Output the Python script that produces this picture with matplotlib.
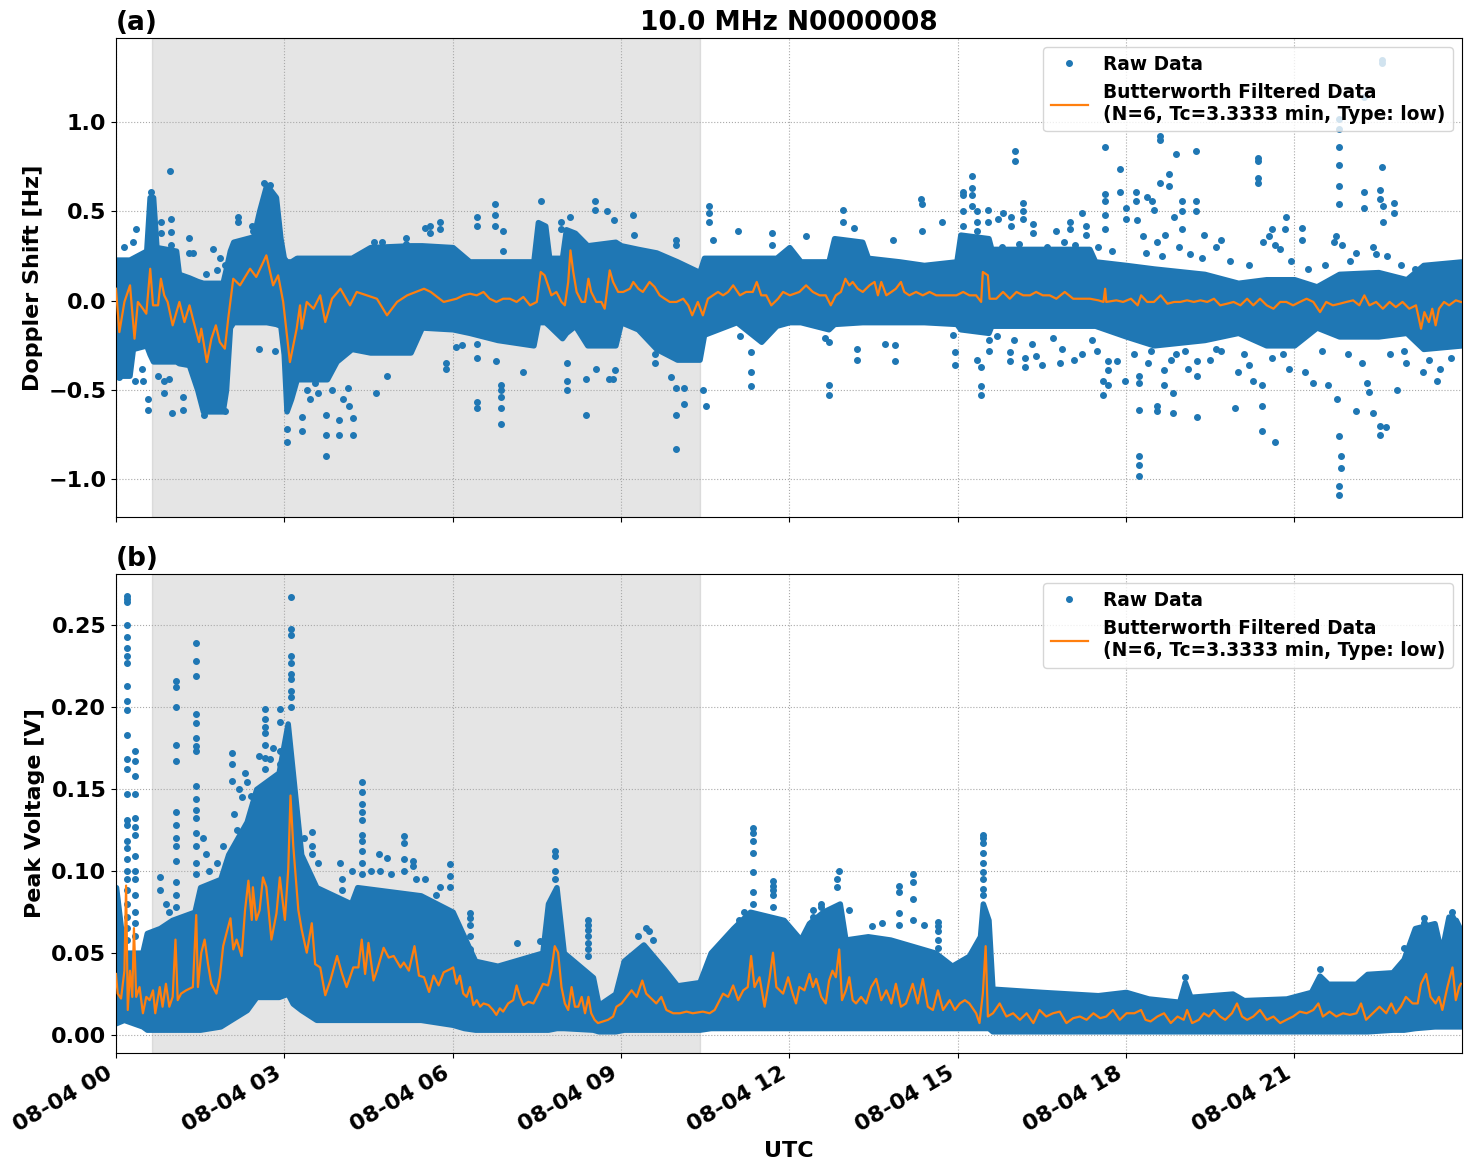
import pandas as pd
import matplotlib.pyplot as plt
import matplotlib.dates as mdates

BASE_DAY = pd.Timestamp('2024-08-04')
SUN_START = 0.64    # hours UTC, start of shaded part
SUN_END = 10.41

# ---- panel (a): Doppler shift ----
# butterworth filtered curve (hours, Hz)
doppler_filt_t = [0.00, 0.06, 0.15, 0.25, 0.33, 0.39, 0.48, 0.54, 0.61, 0.66, 0.75, 0.80, 0.86, 0.92, 1.01,
                  1.13, 1.22, 1.31, 1.37, 1.48, 1.52, 1.62, 1.70, 1.78, 1.85, 1.94, 2.00, 2.09, 2.21, 2.39,
                  2.50, 2.68, 2.80, 2.89, 2.98, 3.10, 3.22, 3.28, 3.31, 3.40, 3.52, 3.64, 3.73, 3.85, 4.00,
                  4.17, 4.29, 4.47, 4.65, 4.83, 5.01, 5.19, 5.49, 5.61, 5.84,
                  6.07, 6.19, 6.31, 6.43, 6.55, 6.66, 6.78, 6.90, 7.02, 7.14, 7.26, 7.38, 7.50, 7.57, 7.64,
                  7.70, 7.76, 7.85, 7.94, 8.00, 8.06, 8.10, 8.15, 8.21, 8.30, 8.36, 8.42, 8.47, 8.56, 8.65,
                  8.71, 8.80, 8.86, 8.95, 9.04, 9.16, 9.22, 9.31, 9.39, 9.51, 9.60, 9.69, 9.78, 9.87, 9.99,
                  10.11, 10.20, 10.27, 10.37, 10.46, 10.55, 10.64, 10.73, 10.82, 10.91, 11.00, 11.12, 11.23,
                  11.35, 11.42, 11.50, 11.59, 11.68, 11.80, 11.89, 12.01,
                  12.18, 12.30, 12.42, 12.54, 12.65, 12.74, 12.83, 12.92, 13.00, 13.07, 13.13, 13.22, 13.31,
                  13.43, 13.52, 13.58, 13.64, 13.73, 13.82, 13.90, 13.99, 14.05, 14.14, 14.26, 14.38, 14.50,
                  14.62, 14.74, 14.86, 14.98, 15.10, 15.21, 15.33, 15.42, 15.45, 15.54, 15.57, 15.69, 15.81,
                  15.93, 16.05, 16.17, 16.29, 16.40, 16.52, 16.64, 16.76, 16.91, 17.06, 17.18, 17.36, 17.51,
                  17.60, 17.63, 17.65, 17.83, 17.95,
                  18.09, 18.21, 18.27, 18.38, 18.50, 18.62, 18.74, 18.86, 18.97, 19.09, 19.21, 19.33, 19.45,
                  19.57, 19.68, 19.80, 19.92, 20.04, 20.16, 20.27, 20.39, 20.51, 20.63, 20.75, 20.86, 20.98,
                  21.10, 21.22, 21.34, 21.46, 21.57, 21.69, 21.81, 21.93, 22.05, 22.16, 22.25, 22.34, 22.46,
                  22.58, 22.70, 22.81, 22.93, 23.05, 23.17, 23.26, 23.32, 23.40, 23.46, 23.52, 23.58, 23.67,
                  23.76, 23.88, 23.97]
doppler_filt_v = [0.067, -0.176, -0.007, 0.086, -0.213, -0.007, -0.045, -0.073, 0.179, -0.026, -0.026, 0.123,
                  0.030, -0.007, -0.138, -0.007, -0.120, -0.026, -0.101, -0.232, -0.157, -0.344, -0.213,
                  -0.138, -0.232, -0.269, -0.101, 0.123, 0.086, 0.179, 0.133, 0.254, 0.086, 0.142, -0.007,
                  -0.344, -0.157, -0.026, -0.157, -0.007, -0.045, 0.030, -0.120, 0.011, 0.067, -0.026, 0.049,
                  0.030, 0.011, -0.082, -0.007, 0.030, 0.067, 0.049, -0.007,
                  0.011, 0.030, 0.039, 0.030, 0.049, 0.011, -0.007, 0.011, 0.011, -0.007, 0.021, -0.026,
                  -0.007, 0.161, 0.142, 0.086, 0.030, 0.049, -0.007, -0.026, 0.105, 0.282, 0.161, 0.049,
                  -0.007, -0.007, 0.123, 0.049, -0.007, -0.007, -0.045, 0.170, 0.105, 0.049, 0.049, 0.067,
                  0.105, 0.067, 0.049, 0.105, 0.077, 0.030, 0.011, -0.007, -0.007, 0.011, -0.026, -0.082,
                  -0.007, -0.082, 0.011, 0.030, 0.049, 0.030, 0.049, 0.086, 0.030, 0.049, 0.049, 0.105,
                  0.030, 0.030, -0.026, 0.011, 0.049, 0.030,
                  0.049, 0.086, 0.049, 0.030, 0.030, -0.026, 0.030, 0.049, 0.123, 0.086, 0.105, 0.067, 0.049,
                  0.086, 0.105, 0.030, 0.105, 0.030, 0.049, 0.067, 0.105, 0.049, 0.030, 0.049, 0.030, 0.049,
                  0.030, 0.030, 0.030, 0.030, 0.049, 0.030, 0.030, -0.007, 0.161, 0.142, 0.011, 0.011, 0.049,
                  0.011, 0.049, 0.030, 0.030, 0.049, 0.030, 0.030, 0.011, 0.049, 0.011, 0.011, 0.011, 0.002,
                  -0.007, 0.067, -0.007, 0.002, -0.007,
                  0.011, -0.026, 0.030, -0.007, -0.007, 0.030, -0.017, -0.007, -0.007, 0.002, -0.007, 0.002,
                  -0.007, 0.011, -0.026, -0.017, -0.007, -0.026, 0.011, -0.026, 0.011, -0.026, -0.045,
                  -0.007, -0.007, -0.026, -0.007, 0.011, -0.007, -0.064, -0.007, -0.026, -0.017, -0.007,
                  0.002, -0.026, 0.030, -0.026, -0.007, -0.045, -0.007, -0.036, -0.007, -0.045, -0.026,
                  -0.157, -0.064, -0.120, -0.045, -0.138, -0.045, -0.007, -0.026, 0.002, -0.007]

# dense cloud of raw points: upper / lower edge (hours, Hz)
doppler_band_t = [0.00, 0.24, 0.30, 0.54, 0.60, 0.66, 0.72, 1.07, 1.12, 1.30, 1.45, 1.55, 1.90, 1.96, 2.03,
                  2.09, 2.45, 2.55, 2.68, 2.85, 2.93, 2.99, 3.04, 3.12, 3.22, 3.76, 3.93, 4.20, 4.53, 5.25,
                  5.45, 6.00,
                  6.30, 6.80, 7.44, 7.52, 7.65, 7.72, 7.95, 8.02, 8.18, 8.40, 8.90, 9.00, 9.30, 9.63, 10.00,
                  10.40, 10.48, 11.06, 11.50, 11.77, 12.00, 12.20, 12.70, 12.80, 13.30, 13.40, 13.96, 14.40,
                  14.98, 15.05, 15.55, 15.60, 17.35, 17.45, 18.00, 18.50, 19.40, 20.00, 20.50, 21.00, 21.40,
                  21.80, 22.50, 23.00, 23.30, 23.99]
doppler_band_hi = [0.23, 0.23, 0.24, 0.28, 0.58, 0.58, 0.30, 0.28, 0.15, 0.13, 0.11, 0.10, 0.10, 0.18, 0.28,
                   0.33, 0.36, 0.50, 0.65, 0.58, 0.35, 0.24, 0.22, 0.22, 0.24, 0.24, 0.24, 0.24, 0.30, 0.31,
                   0.31, 0.30,
                   0.22, 0.22, 0.22, 0.44, 0.42, 0.24, 0.24, 0.40, 0.38, 0.31, 0.33, 0.31, 0.29, 0.27, 0.22,
                   0.16, 0.24, 0.24, 0.24, 0.24, 0.30, 0.22, 0.22, 0.35, 0.33, 0.24, 0.22, 0.20,
                   0.22, 0.37, 0.35, 0.29, 0.29, 0.22, 0.20, 0.18, 0.15, 0.10, 0.12, 0.12, 0.08,
                   0.15, 0.16, 0.12, 0.20, 0.22]
doppler_band_lo = [-0.42, -0.42, -0.27, -0.25, -0.30, -0.34, -0.34, -0.34, -0.35, -0.36, -0.50, -0.62, -0.62,
                   -0.50, -0.15, -0.12, -0.12, -0.12, -0.12, -0.13, -0.14, -0.30, -0.62, -0.55, -0.44, -0.44,
                   -0.34, -0.27, -0.29, -0.29, -0.15, -0.16,
                   -0.18, -0.22, -0.25, -0.12, -0.12, -0.14, -0.21, -0.18, -0.14, -0.25, -0.25, -0.12, -0.16,
                   -0.27, -0.33, -0.33, -0.19, -0.12, -0.23, -0.14, -0.12, -0.12, -0.16, -0.13, -0.12, -0.12,
                   -0.12, -0.12, -0.13, -0.16, -0.18, -0.14, -0.14, -0.14, -0.20, -0.25, -0.22, -0.18, -0.25,
                   -0.25, -0.15, -0.20, -0.20, -0.18, -0.27, -0.25]

# isolated raw points outside the dense cloud (hours, Hz)
doppler_outliers = [
    (0.97, 0.727), (0.80, 0.44), (0.80, 0.38), (0.98, 0.46), (0.98, 0.385), (0.98, 0.31), (1.30, 0.35),
    (1.31, 0.27), (1.37, 0.27), (1.73, 0.29), (1.85, 0.24), (1.94, 0.20), (2.18, 0.47), (2.18, 0.44),
    (2.42, 0.42), (2.45, 0.39), (2.64, 0.66), (2.74, 0.65), (2.68, 0.57), (0.62, 0.61),
    (0.05, -0.43), (0.33, -0.45), (0.46, -0.38), (0.48, -0.45), (0.57, -0.55), (0.57, -0.61),
    (0.75, -0.42), (0.86, -0.45), (0.95, -0.44), (0.86, -0.52), (1.00, -0.63), (1.19, -0.54),
    (1.19, -0.61), (1.56, -0.64), (1.72, -0.57), (1.94, -0.62), (2.55, -0.27), (2.84, -0.28),
    (3.05, -0.72), (3.05, -0.79), (3.31, -0.65), (3.32, -0.73), (3.46, -0.55), (3.55, -0.46),
    (3.75, -0.64), (3.74, -0.75), (3.75, -0.87), (3.97, -0.67), (3.97, -0.75), (4.13, -0.49),
    (4.16, -0.59), (4.22, -0.66), (4.22, -0.75), (4.63, -0.52), (4.83, -0.42), (5.89, -0.35),
    (5.89, -0.38), (4.60, 0.33), (4.74, 0.33), (5.16, 0.35), (5.16, 0.32), (5.50, 0.41), (5.60, 0.42),
    (5.60, 0.38), (5.77, 0.44), (5.77, 0.40), (3.40, -0.50), (3.60, -0.52), (3.85, -0.50), (4.05, -0.55),
    (0.15, 0.30), (0.30, 0.33), (0.35, 0.40), (1.60, 0.15), (1.80, 0.17),
    (6.44, 0.47), (6.44, 0.42), (6.75, 0.54), (6.75, 0.48), (6.75, 0.42), (6.89, 0.39), (6.90, 0.28),
    (7.58, 0.56), (7.93, 0.44), (7.93, 0.40), (8.10, 0.47), (8.53, 0.56), (8.53, 0.51), (8.75, 0.50),
    (8.87, 0.45), (9.22, 0.48), (9.24, 0.37), (9.99, 0.34), (9.99, 0.31), (10.57, 0.53), (10.57, 0.49),
    (10.57, 0.44), (10.64, 0.34), (11.09, 0.39), (11.70, 0.38), (11.70, 0.31),
    (6.06, -0.26), (6.17, -0.25), (6.44, -0.24), (6.44, -0.32), (6.44, -0.57), (6.44, -0.60),
    (6.78, -0.34), (6.87, -0.47), (6.87, -0.50), (6.87, -0.54), (6.87, -0.60), (6.87, -0.69),
    (7.26, -0.40), (8.03, -0.35), (8.03, -0.45), (8.03, -0.50), (8.37, -0.44), (8.37, -0.64),
    (8.55, -0.38), (8.78, -0.44), (8.86, -0.44), (8.90, -0.39), (9.60, -0.30), (9.60, -0.35),
    (9.90, -0.43), (9.98, -0.49), (9.98, -0.64), (9.98, -0.83), (10.12, -0.49), (10.12, -0.58),
    (10.46, -0.50), (10.51, -0.59), (11.31, -0.29), (11.31, -0.40), (11.31, -0.48), (11.13, -0.20),
    (12.29, 0.36), (12.95, 0.51), (12.95, 0.44), (13.15, 0.41), (13.85, 0.34), (14.35, 0.57),
    (14.36, 0.54), (14.36, 0.39), (14.72, 0.44), (15.10, 0.61), (15.10, 0.59), (15.26, 0.70),
    (15.26, 0.63), (15.26, 0.59), (15.26, 0.53), (15.10, 0.50), (15.10, 0.42), (15.35, 0.50),
    (15.35, 0.44), (15.35, 0.39), (15.54, 0.51), (15.54, 0.44), (15.72, 0.46), (15.81, 0.49),
    (16.02, 0.84), (16.02, 0.78), (16.17, 0.55), (16.17, 0.50), (16.17, 0.46), (16.35, 0.43),
    (16.35, 0.38), (15.96, 0.47), (15.96, 0.42), (16.76, 0.39), (17.00, 0.44), (17.00, 0.40),
    (17.22, 0.49), (17.29, 0.42), (17.29, 0.37), (17.63, 0.86), (17.63, 0.60), (17.63, 0.56),
    (17.63, 0.48), (17.63, 0.40), (17.89, 0.74), (17.89, 0.61), (18.00, 0.52), (18.00, 0.46),
    (12.63, -0.21), (12.70, -0.23), (12.70, -0.47), (12.70, -0.53), (13.20, -0.27), (13.20, -0.33),
    (13.71, -0.24), (13.89, -0.25), (13.89, -0.34), (14.92, -0.19), (14.96, -0.29), (14.96, -0.36),
    (15.35, -0.33), (15.41, -0.37), (15.41, -0.48), (15.41, -0.53), (15.56, -0.22), (15.56, -0.28),
    (15.93, -0.29), (15.93, -0.34), (16.21, -0.32), (16.21, -0.37), (16.33, -0.24), (16.40, -0.31),
    (16.51, -0.36), (16.86, -0.27), (16.82, -0.35), (17.08, -0.33), (17.22, -0.30), (17.49, -0.28),
    (17.60, -0.45), (17.60, -0.53), (17.68, -0.34), (17.68, -0.39), (17.68, -0.47), (17.85, -0.34),
    (17.98, -0.45), (15.80, 0.30), (16.10, 0.32), (16.60, 0.30), (16.90, 0.33), (17.10, 0.31),
    (17.50, 0.30), (17.75, 0.28), (15.70, -0.20), (16.00, -0.22), (16.70, -0.21), (17.40, -0.22),
    (18.61, 0.92), (18.61, 0.90), (18.90, 0.82), (19.25, 0.84), (18.77, 0.71), (18.61, 0.66),
    (18.77, 0.64), (18.18, 0.61), (18.18, 0.56), (18.38, 0.58), (18.47, 0.56), (19.00, 0.56),
    (19.25, 0.56), (18.50, 0.51), (18.86, 0.47), (19.00, 0.50), (19.25, 0.50), (20.35, 0.80),
    (20.35, 0.78), (20.35, 0.69), (20.35, 0.66), (20.86, 0.47), (20.83, 0.40), (21.13, 0.41),
    (21.13, 0.34), (21.79, 1.02), (21.79, 0.96), (21.79, 0.86), (21.79, 0.76), (21.79, 0.64),
    (21.79, 0.54), (22.56, 0.75), (22.53, 0.62), (22.53, 0.57), (22.58, 0.53), (22.58, 0.44),
    (22.24, 0.61), (22.24, 0.52), (22.77, 0.55), (22.77, 0.49), (22.24, 1.14), (22.56, 1.35),
    (22.56, 1.33), (20.45, 0.33), (20.55, 0.36), (20.65, 0.31), (20.75, 0.29), (20.60, 0.40),
    (21.70, 0.33), (21.75, 0.36), (21.85, 0.31), (22.10, 0.27), (22.40, 0.30), (22.45, 0.26),
    (19.60, 0.30), (19.70, 0.34), (19.40, 0.37), (19.00, 0.40), (18.70, 0.37), (18.55, 0.33),
    (18.30, 0.36), (18.20, 0.45), (18.35, 0.27), (18.65, 0.25), (18.95, 0.30), (19.15, 0.26),
    (19.35, 0.24), (19.85, 0.22), (20.20, 0.20), (20.95, 0.22), (21.25, 0.18), (21.55, 0.20),
    (22.00, 0.22), (22.65, 0.25), (22.90, 0.20), (23.15, 0.18),
    (18.24, -0.42), (18.24, -0.46), (18.24, -0.61), (18.24, -0.87), (18.24, -0.92), (18.24, -0.98),
    (18.56, -0.59), (18.56, -0.62), (18.84, -0.52), (18.84, -0.63), (19.27, -0.65), (19.94, -0.60),
    (20.43, -0.47), (20.43, -0.59), (20.43, -0.73), (20.65, -0.79), (21.77, -0.55), (21.80, -0.76),
    (21.84, -0.87), (21.84, -0.94), (21.79, -1.04), (21.79, -1.09), (22.10, -0.62), (22.40, -0.63),
    (22.52, -0.70), (22.52, -0.75), (22.64, -0.71), (22.84, -0.50), (19.27, -0.34), (19.27, -0.42),
    (18.68, -0.39), (18.68, -0.47), (20.27, -0.45), (21.34, -0.46), (21.60, -0.47), (22.30, -0.46),
    (22.33, -0.51), (23.55, -0.45), (18.40, -0.35), (18.90, -0.30), (19.10, -0.38), (19.50, -0.33),
    (19.70, -0.28), (20.00, -0.40), (20.20, -0.36), (20.90, -0.38), (21.20, -0.40), (22.70, -0.30),
    (23.00, -0.35), (23.30, -0.40), (23.60, -0.38), (18.15, -0.30), (18.45, -0.28), (18.80, -0.33),
    (19.05, -0.28), (19.60, -0.27), (20.10, -0.30), (20.60, -0.32), (20.80, -0.30), (21.50, -0.28),
    (21.95, -0.30), (22.20, -0.35), (22.95, -0.28), (23.40, -0.33), (23.80, -0.32),
]

# ---- panel (b): peak voltage ----
volt_filt_t = [0.00, 0.03, 0.09, 0.15, 0.18, 0.21, 0.25, 0.29, 0.32, 0.36, 0.42, 0.48, 0.54, 0.60, 0.66, 0.70,
               0.78, 0.83, 0.89, 0.95, 1.01, 1.06, 1.10, 1.16, 1.25, 1.37, 1.43, 1.46, 1.52, 1.58, 1.64, 1.70,
               1.79, 1.85, 1.91, 1.97, 2.04, 2.09, 2.15, 2.24, 2.30, 2.36, 2.42, 2.44, 2.50, 2.56, 2.62, 2.68,
               2.77, 2.86, 2.92, 3.01, 3.07, 3.11, 3.16, 3.25, 3.31, 3.40, 3.49, 3.55, 3.64, 3.73, 3.82, 3.94,
               4.03, 4.11, 4.23, 4.32, 4.38, 4.44, 4.50, 4.59, 4.65, 4.77, 4.86, 4.95, 5.07, 5.13, 5.22, 5.32,
               5.40, 5.49, 5.58, 5.66, 5.75, 5.84, 5.96,
               6.01, 6.07, 6.13, 6.19, 6.25, 6.31, 6.37, 6.43, 6.49, 6.55, 6.64, 6.72, 6.78, 6.84, 6.90, 6.99,
               7.08, 7.14, 7.20, 7.26, 7.35, 7.44, 7.53, 7.61, 7.70, 7.76, 7.82, 7.88, 7.94, 8.00, 8.06, 8.12,
               8.18, 8.24, 8.30, 8.36, 8.42, 8.47, 8.53, 8.59, 8.68, 8.77, 8.86, 8.92, 9.01, 9.10, 9.19, 9.28,
               9.38, 9.45, 9.54, 9.63, 9.72, 9.81, 9.93, 10.05, 10.17, 10.28, 10.46, 10.58, 10.67, 10.76, 10.82,
               10.91, 11.00, 11.09, 11.18, 11.26, 11.32, 11.38, 11.47, 11.56, 11.65, 11.71, 11.77, 11.89, 11.98,
               12.06, 12.12, 12.18, 12.27, 12.36, 12.42, 12.48, 12.57, 12.65, 12.71, 12.77, 12.83, 12.89, 12.94,
               13.01, 13.07, 13.13, 13.19, 13.28, 13.37, 13.46, 13.55, 13.64, 13.73, 13.82, 13.90, 13.99, 14.08,
               14.20, 14.29, 14.38, 14.47, 14.56, 14.65, 14.74, 14.86, 14.95, 15.04, 15.13, 15.21, 15.33, 15.39,
               15.45, 15.50, 15.54, 15.63, 15.75, 15.87, 15.99, 16.11, 16.23, 16.35, 16.46, 16.58, 16.70, 16.82,
               16.94, 17.06, 17.18, 17.30, 17.42, 17.54, 17.65, 17.77, 17.89, 18.01,
               18.15, 18.27, 18.35, 18.44, 18.56, 18.68, 18.80, 18.92, 19.03, 19.09, 19.18, 19.30, 19.39, 19.48,
               19.57, 19.68, 19.77, 19.89, 19.98, 20.07, 20.16, 20.27, 20.39, 20.51, 20.63, 20.75, 20.86, 20.98,
               21.10, 21.22, 21.34, 21.43, 21.51, 21.63, 21.75, 21.87, 21.99, 22.11, 22.19, 22.28, 22.40, 22.52,
               22.64, 22.73, 22.81, 22.90, 22.99, 23.11, 23.20, 23.26, 23.35, 23.43, 23.52, 23.58, 23.64, 23.73,
               23.82, 23.88, 23.94, 23.97]
volt_filt_v = [0.037, 0.025, 0.022, 0.039, 0.091, 0.015, 0.039, 0.023, 0.065, 0.023, 0.029, 0.013, 0.023,
               0.021, 0.027, 0.013, 0.029, 0.017, 0.031, 0.017, 0.023, 0.058, 0.021, 0.025, 0.027, 0.029,
               0.073, 0.029, 0.050, 0.058, 0.043, 0.031, 0.025, 0.035, 0.054, 0.062, 0.071, 0.052, 0.058,
               0.048, 0.076, 0.094, 0.070, 0.090, 0.070, 0.076, 0.096, 0.090, 0.058, 0.074, 0.096, 0.070,
               0.101, 0.146, 0.115, 0.076, 0.064, 0.050, 0.068, 0.043, 0.041, 0.024, 0.033, 0.048, 0.037,
               0.029, 0.041, 0.041, 0.058, 0.037, 0.056, 0.033, 0.039, 0.053, 0.047, 0.048, 0.041, 0.044,
               0.039, 0.054, 0.036, 0.035, 0.026, 0.036, 0.030, 0.038, 0.040,
               0.041, 0.031, 0.036, 0.025, 0.023, 0.029, 0.018, 0.021, 0.017, 0.019, 0.018, 0.015, 0.012,
               0.016, 0.014, 0.019, 0.021, 0.030, 0.023, 0.018, 0.020, 0.019, 0.025, 0.031, 0.030, 0.039,
               0.054, 0.050, 0.029, 0.019, 0.015, 0.029, 0.017, 0.017, 0.023, 0.013, 0.023, 0.013, 0.009,
               0.007, 0.008, 0.009, 0.011, 0.017, 0.019, 0.023, 0.027, 0.023, 0.033, 0.025, 0.022, 0.019,
               0.023, 0.015, 0.013, 0.013, 0.014, 0.013, 0.014, 0.013, 0.015, 0.021, 0.025, 0.023, 0.030,
               0.021, 0.027, 0.029, 0.048, 0.029, 0.035, 0.017, 0.035, 0.050, 0.029, 0.025, 0.035,
               0.025, 0.019, 0.029, 0.027, 0.037, 0.029, 0.034, 0.023, 0.019, 0.033, 0.039, 0.035, 0.052,
               0.021, 0.027, 0.035, 0.021, 0.019, 0.023, 0.019, 0.029, 0.034, 0.021, 0.027, 0.019, 0.031,
               0.017, 0.019, 0.031, 0.019, 0.034, 0.017, 0.015, 0.027, 0.015, 0.021, 0.015, 0.019, 0.021,
               0.019, 0.013, 0.007, 0.025, 0.054, 0.011, 0.013, 0.019, 0.011, 0.013, 0.009, 0.013, 0.007,
               0.015, 0.011, 0.013, 0.014, 0.007, 0.010, 0.011, 0.009, 0.013, 0.010, 0.011, 0.015, 0.009,
               0.013,
               0.013, 0.015, 0.009, 0.008, 0.011, 0.013, 0.007, 0.011, 0.009, 0.015, 0.007, 0.009, 0.013,
               0.011, 0.015, 0.011, 0.009, 0.013, 0.019, 0.011, 0.009, 0.011, 0.015, 0.009, 0.011, 0.007,
               0.009, 0.011, 0.014, 0.013, 0.015, 0.019, 0.011, 0.014, 0.011, 0.013, 0.012, 0.013, 0.019,
               0.009, 0.013, 0.017, 0.013, 0.019, 0.013, 0.017, 0.023, 0.019, 0.019, 0.031, 0.037, 0.023,
               0.019, 0.023, 0.015, 0.029, 0.041, 0.021, 0.029, 0.031]

volt_band_t = [0.00, 0.14, 0.47, 0.55, 0.78, 1.00, 1.40, 1.50, 1.86, 2.00, 2.33, 2.50, 2.90, 3.06, 3.15, 3.30,
               3.57, 4.19, 4.30, 5.43, 6.00, 6.20, 6.40, 6.80, 7.60, 7.70, 7.85, 7.98, 8.50, 8.60, 8.90, 9.05,
               9.40, 9.77, 10.00, 10.40, 10.60, 11.00, 11.30, 11.90,
               12.20, 12.35, 12.60, 12.90, 13.00, 13.40, 13.80, 14.20, 14.60, 14.90, 15.20, 15.40, 15.45,
               15.55, 15.62, 16.50, 17.50, 18.00,
               18.40, 18.95, 19.05, 19.15, 19.90, 20.10, 20.86, 21.30, 21.45, 21.60, 22.10, 22.30, 22.75,
               22.95, 23.15, 23.50, 23.62, 23.75, 23.88, 23.99]
volt_band_hi = [0.090, 0.050, 0.050, 0.062, 0.065, 0.070, 0.075, 0.090, 0.095, 0.110, 0.130, 0.150, 0.160,
                0.190, 0.160, 0.110, 0.090, 0.080, 0.090, 0.085, 0.075, 0.060, 0.045, 0.042, 0.050, 0.080,
                0.090, 0.050, 0.035, 0.018, 0.025, 0.045, 0.055, 0.040, 0.030, 0.032, 0.050, 0.065, 0.075,
                0.070,
                0.058, 0.068, 0.075, 0.080, 0.058, 0.060, 0.058, 0.054, 0.050, 0.042, 0.048, 0.060, 0.080,
                0.070, 0.028, 0.026, 0.024, 0.026,
                0.022, 0.020, 0.032, 0.023, 0.025, 0.021, 0.022, 0.026, 0.036, 0.031, 0.031, 0.037, 0.038,
                0.046, 0.065, 0.068, 0.050, 0.072, 0.070, 0.062]
volt_band_lo = [0.007, 0.009, 0.005, 0.003, 0.003, 0.003, 0.003, 0.003, 0.005, 0.008, 0.015, 0.023, 0.023,
                0.025, 0.019, 0.015, 0.009, 0.009, 0.009, 0.009, 0.006, 0.004, 0.003, 0.003, 0.003, 0.003,
                0.004, 0.004, 0.003, 0.002, 0.002, 0.003, 0.003, 0.003, 0.003, 0.003, 0.004, 0.004, 0.004,
                0.004,
                0.004, 0.004, 0.004, 0.004, 0.004, 0.004, 0.004, 0.004, 0.004, 0.004, 0.004, 0.004, 0.004,
                0.004, 0.002, 0.002, 0.002, 0.002,
                0.002, 0.002, 0.002, 0.002, 0.002, 0.002, 0.002, 0.002, 0.002, 0.002, 0.002, 0.002, 0.003,
                0.003, 0.004, 0.005, 0.005, 0.005, 0.005, 0.005]

volt_outliers = [
    (0.19, 0.268), (0.19, 0.266), (0.19, 0.264), (0.19, 0.250), (0.19, 0.243), (0.19, 0.236),
    (0.19, 0.231), (0.19, 0.227), (0.19, 0.213), (0.19, 0.204), (0.19, 0.198), (0.19, 0.183),
    (0.19, 0.168), (0.19, 0.162), (0.19, 0.147), (0.19, 0.131), (0.19, 0.128), (0.19, 0.118),
    (0.19, 0.114), (0.19, 0.107), (0.19, 0.100), (0.19, 0.095), (0.19, 0.088), (0.19, 0.080),
    (0.19, 0.072), (0.19, 0.065), (0.19, 0.058),
    (0.33, 0.173), (0.33, 0.167), (0.33, 0.158), (0.33, 0.147), (0.33, 0.132), (0.33, 0.127),
    (0.33, 0.122), (0.33, 0.109), (0.33, 0.100), (0.33, 0.095), (0.33, 0.085), (0.33, 0.075),
    (0.33, 0.068), (0.33, 0.060),
    (0.62, 0.062), (0.78, 0.096), (0.78, 0.088), (0.90, 0.080), (0.95, 0.075),
    (1.07, 0.216), (1.07, 0.212), (1.07, 0.200), (1.07, 0.177), (1.07, 0.167), (1.07, 0.136),
    (1.07, 0.128), (1.07, 0.120), (1.07, 0.115), (1.07, 0.106), (1.07, 0.093), (1.07, 0.085),
    (1.07, 0.078),
    (1.43, 0.239), (1.43, 0.228), (1.43, 0.219), (1.43, 0.196), (1.43, 0.190), (1.43, 0.181),
    (1.43, 0.176), (1.43, 0.173), (1.43, 0.152), (1.43, 0.144), (1.43, 0.137), (1.43, 0.132),
    (1.43, 0.123), (1.43, 0.115), (1.43, 0.105), (1.43, 0.098), (1.55, 0.120), (1.60, 0.110),
    (1.65, 0.100), (1.80, 0.105), (1.90, 0.115),
    (2.06, 0.172), (2.06, 0.165), (2.06, 0.155), (2.30, 0.160), (2.33, 0.154), (2.40, 0.146),
    (2.45, 0.141), (2.20, 0.150), (2.25, 0.145), (2.10, 0.135), (2.15, 0.125),
    (2.65, 0.199), (2.65, 0.193), (2.65, 0.188), (2.65, 0.184), (2.65, 0.177), (2.65, 0.169),
    (2.65, 0.162), (2.92, 0.199), (2.92, 0.191), (2.92, 0.173), (2.92, 0.165), (2.55, 0.170),
    (2.80, 0.175), (2.75, 0.168),
    (3.12, 0.267), (3.12, 0.248), (3.12, 0.244), (3.12, 0.231), (3.12, 0.227), (3.12, 0.220),
    (3.12, 0.217), (3.12, 0.210), (3.12, 0.206), (3.12, 0.200),
    (3.49, 0.124), (3.49, 0.115), (3.49, 0.110), (3.35, 0.120), (3.60, 0.105), (4.00, 0.105),
    (4.03, 0.095), (4.03, 0.088), (4.20, 0.100),
    (4.38, 0.154), (4.38, 0.148), (4.38, 0.141), (4.38, 0.136), (4.38, 0.131), (4.38, 0.122),
    (4.38, 0.118), (4.38, 0.112), (4.38, 0.105), (4.38, 0.098), (4.55, 0.100), (4.68, 0.110),
    (4.70, 0.100), (4.83, 0.108), (4.90, 0.098), (5.13, 0.121), (5.13, 0.117), (5.13, 0.107),
    (5.13, 0.100), (5.30, 0.106), (5.30, 0.103), (5.35, 0.095), (5.50, 0.095), (5.96, 0.104),
    (5.96, 0.097), (5.96, 0.090), (5.78, 0.090), (5.70, 0.085),
    (6.31, 0.074), (6.31, 0.071), (6.31, 0.067), (6.31, 0.060), (6.31, 0.052), (7.14, 0.056),
    (7.56, 0.057), (7.82, 0.112), (7.82, 0.109), (7.82, 0.100), (7.82, 0.095), (8.42, 0.070),
    (8.42, 0.067), (8.42, 0.064), (8.42, 0.060), (8.42, 0.056), (8.42, 0.052), (8.42, 0.048),
    (9.45, 0.065), (9.50, 0.063), (9.57, 0.058), (9.30, 0.060),
    (11.35, 0.126), (11.35, 0.123), (11.35, 0.118), (11.35, 0.111), (11.35, 0.099), (11.35, 0.087),
    (11.35, 0.080), (11.71, 0.094), (11.71, 0.091), (11.71, 0.088), (11.71, 0.085), (11.71, 0.078),
    (11.10, 0.070), (11.20, 0.075),
    (12.89, 0.100), (12.85, 0.095), (12.85, 0.090), (13.95, 0.091), (13.95, 0.087), (13.95, 0.074),
    (13.95, 0.067), (14.21, 0.098), (14.21, 0.093), (14.21, 0.083), (14.21, 0.070), (14.65, 0.069),
    (14.65, 0.066), (14.65, 0.063), (14.65, 0.058), (14.65, 0.053),
    (15.45, 0.122), (15.45, 0.120), (15.45, 0.117), (15.45, 0.111), (15.45, 0.105), (15.45, 0.099),
    (15.45, 0.095), (15.45, 0.089), (15.45, 0.085), (12.42, 0.076), (12.42, 0.072), (12.57, 0.080),
    (12.57, 0.078), (13.07, 0.076), (13.48, 0.066), (13.65, 0.068), (14.40, 0.067),
    (19.06, 0.035), (21.46, 0.040), (22.96, 0.053), (23.32, 0.071), (23.32, 0.068), (23.46, 0.064),
    (23.46, 0.060), (23.46, 0.054), (23.82, 0.075), (23.82, 0.072), (23.75, 0.066),
]


def to_time(hours):
    return BASE_DAY + pd.to_timedelta(pd.Series(hours), unit='h')


def draw_panel(ax, band_t, band_lo, band_hi, outliers, filt_t, filt_v, ylabel):
    ax.axvspan(to_time([SUN_START])[0], to_time([SUN_END])[0], color='gray', alpha=0.2, zorder=0)
    ax.fill_between(to_time(band_t), band_lo, band_hi, color='C0', lw=4, zorder=2)
    ot = [o[0] for o in outliers]
    ov = [o[1] for o in outliers]
    raw, = ax.plot(to_time(ot), ov, '.', color='C0', ms=8, zorder=2, label='Raw Data')
    filt, = ax.plot(to_time(filt_t), filt_v, color='C1', lw=1.6, zorder=3,
                    label='Butterworth Filtered Data\n(N=6, Tc=3.3333 min, Type: low)')
    ax.set_ylabel(ylabel, fontsize=16, fontweight='bold')
    ax.grid(True, ls=':', color='darkgray')
    ax.legend(handles=[raw, filt], loc='upper right', prop={'weight': 'bold', 'size': 13.4})
    ax.tick_params(labelsize=16)


plt.rcParams['font.weight'] = 'bold'

fig, (ax1, ax2) = plt.subplots(2, 1, sharex=True, figsize=(14.72, 11.72), dpi=100)

draw_panel(ax1, doppler_band_t, doppler_band_lo, doppler_band_hi, doppler_outliers,
           doppler_filt_t, doppler_filt_v, 'Doppler Shift [Hz]')
draw_panel(ax2, volt_band_t, volt_band_lo, volt_band_hi, volt_outliers,
           volt_filt_t, volt_filt_v, 'Peak Voltage [V]')

ax1.set_title('10.0 MHz N0000008', fontsize=19, fontweight='bold')
ax1.set_title('(a)', loc='left', fontsize=19, fontweight='bold')
ax2.set_title('(b)', loc='left', fontsize=19, fontweight='bold')

ax2.set_xlim(to_time([0])[0], to_time([23.99])[0])
ax2.xaxis.set_major_locator(mdates.HourLocator(byhour=range(0, 24, 3)))
ax2.xaxis.set_major_formatter(mdates.DateFormatter('%m-%d %H'))
ax2.set_xlabel('UTC', fontsize=16, fontweight='bold')
fig.autofmt_xdate()
fig.subplots_adjust(left=0.0788, right=0.9932, top=0.9676, bottom=0.1015, hspace=0.119)

fig.savefig('out.png', dpi=100)
